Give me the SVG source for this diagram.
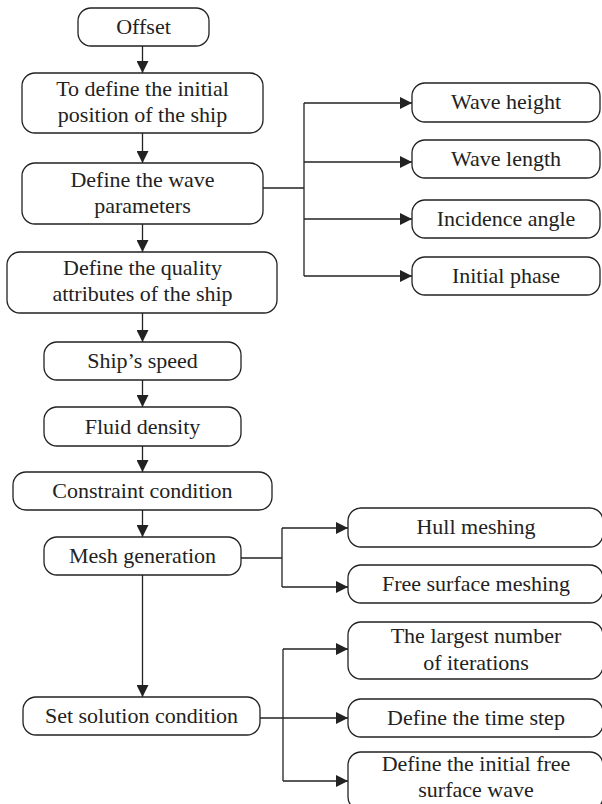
<svg xmlns="http://www.w3.org/2000/svg" width="602" height="804" viewBox="0 0 602 804">
<defs>
<marker id="ah" markerUnits="userSpaceOnUse" markerWidth="12" markerHeight="12" refX="12" refY="6" orient="auto">
<path d="M0,0 L12,6 L0,12 z" fill="#222"/>
</marker>
<style>
.b{fill:#fff;stroke:#222;stroke-width:1.3}
.t{font-family:'Liberation Serif','Times New Roman','DejaVu Serif',serif;font-size:22px;fill:#222;text-anchor:middle}
.c{fill:none;stroke:#222;stroke-width:1.3}
.a{marker-end:url(#ah)}
</style>
</defs>
<rect width="602" height="804" fill="#fff"/>
<g id="connectors">
<line class="c a" x1="142.5" y1="46" x2="142.5" y2="73"/>
<line class="c a" x1="142.5" y1="133" x2="142.5" y2="163"/>
<line class="c a" x1="142.5" y1="224" x2="142.5" y2="252"/>
<line class="c a" x1="142.5" y1="313" x2="142.5" y2="342"/>
<line class="c a" x1="142.5" y1="380" x2="142.5" y2="407"/>
<line class="c a" x1="142.5" y1="446" x2="142.5" y2="472"/>
<line class="c a" x1="142.5" y1="510" x2="142.5" y2="537"/>
<line class="c a" x1="142.5" y1="575" x2="142.5" y2="697"/>
<line class="c" x1="263" y1="188" x2="304" y2="188"/>
<line class="c" x1="304" y1="103" x2="304" y2="276"/>
<line class="c a" x1="304" y1="103" x2="412" y2="103"/>
<line class="c a" x1="304" y1="162" x2="412" y2="162"/>
<line class="c a" x1="304" y1="219" x2="412" y2="219"/>
<line class="c a" x1="304" y1="276" x2="412" y2="276"/>
<line class="c" x1="241" y1="558" x2="282" y2="558"/>
<line class="c" x1="282" y1="528" x2="282" y2="587"/>
<line class="c a" x1="282" y1="528" x2="348" y2="528"/>
<line class="c a" x1="282" y1="587" x2="348" y2="587"/>
<line class="c a" x1="260" y1="718" x2="348" y2="718"/>
<line class="c" x1="283" y1="649" x2="283" y2="781"/>
<line class="c a" x1="283" y1="649" x2="348" y2="649"/>
<line class="c a" x1="283" y1="781" x2="348" y2="781"/>
</g>
<g id="n-offset"><rect class="b" x="78" y="8" width="131" height="38" rx="13"/><text class="t" x="143.5" y="34">Offset</text></g>
<g id="n-init-pos"><rect class="b" x="22" y="73" width="241" height="60" rx="13"/><text class="t" x="142.5" y="96">To define the initial</text><text class="t" x="142.5" y="122">position of the ship</text></g>
<g id="n-wave-params"><rect class="b" x="22" y="163" width="241" height="61" rx="13"/><text class="t" x="142.5" y="187">Define the wave</text><text class="t" x="142.5" y="213">parameters</text></g>
<g id="n-quality"><rect class="b" x="7" y="252" width="270" height="61" rx="13"/><text class="t" x="142.5" y="275">Define the quality</text><text class="t" x="142.5" y="301">attributes of the ship</text></g>
<g id="n-speed"><rect class="b" x="44" y="342" width="197" height="38" rx="13"/><text class="t" x="142.5" y="368">Ship’s speed</text></g>
<g id="n-density"><rect class="b" x="44" y="407" width="197" height="39" rx="13"/><text class="t" x="142.5" y="434">Fluid density</text></g>
<g id="n-constraint"><rect class="b" x="13" y="472" width="259" height="38" rx="13"/><text class="t" x="142.5" y="498">Constraint condition</text></g>
<g id="n-mesh"><rect class="b" x="44" y="537" width="197" height="38" rx="13"/><text class="t" x="142.5" y="563">Mesh generation</text></g>
<g id="n-solution"><rect class="b" x="23" y="697" width="237" height="38" rx="13"/><text class="t" x="141.5" y="723">Set solution condition</text></g>
<g id="n-wave-height"><rect class="b" x="412" y="83" width="188" height="39" rx="13"/><text class="t" x="506" y="109">Wave height</text></g>
<g id="n-wave-length"><rect class="b" x="412" y="140" width="188" height="38" rx="13"/><text class="t" x="506" y="166">Wave length</text></g>
<g id="n-incidence"><rect class="b" x="412" y="200" width="188" height="38" rx="13"/><text class="t" x="506" y="226">Incidence angle</text></g>
<g id="n-phase"><rect class="b" x="412" y="257" width="188" height="38" rx="13"/><text class="t" x="506" y="283">Initial phase</text></g>
<g id="n-hull"><rect class="b" x="348" y="508" width="255" height="39" rx="13"/><text class="t" x="476" y="534">Hull meshing</text></g>
<g id="n-free-surface"><rect class="b" x="348" y="565" width="255" height="38" rx="13"/><text class="t" x="476" y="591">Free surface meshing</text></g>
<g id="n-iterations"><rect class="b" x="348" y="622" width="255" height="57" rx="13"/><text class="t" x="476" y="643">The largest number</text><text class="t" x="476" y="670">of iterations</text></g>
<g id="n-time-step"><rect class="b" x="348" y="699" width="255" height="38" rx="13"/><text class="t" x="476" y="725">Define the time step</text></g>
<g id="n-initial-wave"><rect class="b" x="348" y="752" width="255" height="58" rx="13"/><text class="t" x="476" y="771">Define the initial free</text><text class="t" x="476" y="797">surface wave</text></g>
</svg>
